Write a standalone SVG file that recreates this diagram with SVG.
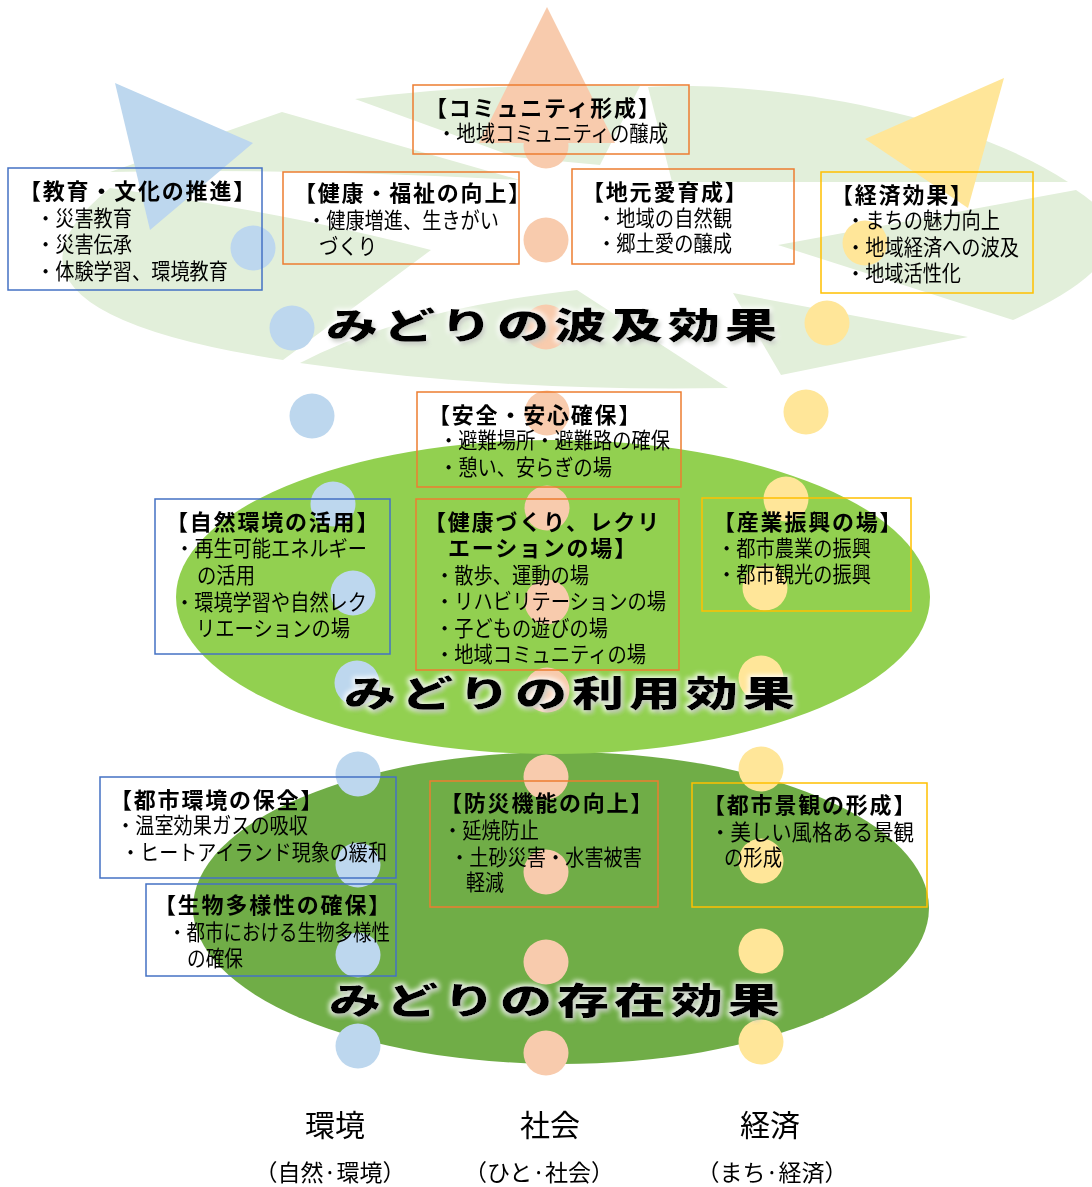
<svg xmlns="http://www.w3.org/2000/svg" width="1092" height="1187" viewBox="0 0 1092 1187">
<defs>
<style>
.leaf{fill:#e2efda}
.bx{fill:none;stroke-width:1.5}
.b{stroke:#4472c4}.o{stroke:#ed7d31}.y{stroke:#ffc000}
.cb{fill:#bdd7ee}.co{fill:#f8cbad}.cy{fill:#ffe699}
.t{font-family:"Noto Sans CJK JP","Noto Sans CJK SC",sans-serif;font-size:22px;font-weight:700;letter-spacing:1.8px;fill:#000}
.l{font-family:"Noto Sans CJK JP","Noto Sans CJK SC",sans-serif;font-size:21.5px;fill:#000}
.big{font-family:"Noto Sans CJK JP","Noto Sans CJK SC",sans-serif;font-size:36px;font-weight:900;letter-spacing:3.3px;fill:#000}
.ax{font-family:"Noto Sans CJK JP","Noto Sans CJK SC",sans-serif;font-size:30px;fill:#000;text-anchor:middle}
.sub{font-family:"Noto Sans CJK JP","Noto Sans CJK SC",sans-serif;font-size:23px;fill:#000;text-anchor:middle}
</style>
<filter id="glow" x="-10%" y="-40%" width="120%" height="180%">
<feMorphology in="SourceAlpha" operator="dilate" radius="2" result="d"/>
<feGaussianBlur in="d" stdDeviation="2.5" result="b"/>
<feFlood flood-color="#ffffff" flood-opacity="0.9"/>
<feComposite in2="b" operator="in" result="gl"/>
<feOffset in="SourceAlpha" dx="2" dy="3" result="of"/>
<feGaussianBlur in="of" stdDeviation="2" result="ob"/>
<feFlood flood-color="#5a6b4a" flood-opacity="0.45"/>
<feComposite in2="ob" operator="in" result="sh"/>
<feMerge><feMergeNode in="gl"/><feMergeNode in="sh"/><feMergeNode in="SourceGraphic"/></feMerge>
</filter>
</defs>
<rect width="1092" height="1187" fill="#ffffff"/>

<g id="ripple-leaves">
<path class="leaf" d="M110,172 L282,112 L520,180 Q300,168 110,172 Z"/>
<path class="leaf" d="M355,99 Q480,82 640,86 L600,165 L515,157 Z"/>
<path class="leaf" d="M648,87 C760,80 960,110 1068,182 L672,182 Z"/>
<path class="leaf" d="M778,245 L1076,190 Q1170,250 1013,320 Z"/>
<path class="leaf" d="M733,293 L968,337 L781,375 Z"/>
<path class="leaf" d="M300,363 Q400,310 577,290 L728,388 Q500,392 300,363 Z"/>
<path class="leaf" d="M110,188 Q-40,310 283,360 L431,250 Q300,215 110,188 Z"/>
</g>

<g id="ellipses">
<ellipse cx="561" cy="908" rx="368" ry="156" fill="#70ad47"/>
<ellipse cx="553" cy="597" rx="377" ry="157" fill="#92d050"/>
</g>

<g id="connectors">
<g id="arrow-env">
<polygon class="cb" points="115,83 253,143 150,230"/>
<circle class="cb" cx="253" cy="248" r="22.5"/>
<circle class="cb" cx="292" cy="328" r="22.5"/>
<circle class="cb" cx="312" cy="416" r="22.5"/>
<circle class="cb" cx="333" cy="504" r="22.5"/>
<circle class="cb" cx="353" cy="593" r="22.5"/>
<circle class="cb" cx="357" cy="683" r="22.5"/>
<circle class="cb" cx="358" cy="774" r="22.5"/>
<circle class="cb" cx="358" cy="865" r="22.5"/>
<circle class="cb" cx="358" cy="955" r="22.5"/>
<circle class="cb" cx="358" cy="1046" r="22.5"/>
</g>
<g id="arrow-soc">
<polygon class="co" points="547,7 615,143 479,143"/>
<circle class="co" cx="546" cy="146" r="22.5"/>
<circle class="co" cx="546" cy="240" r="22.5"/>
<circle class="co" cx="546" cy="327" r="22.5"/>
<circle class="co" cx="547" cy="413" r="22.5"/>
<circle class="co" cx="547" cy="508" r="22.5"/>
<circle class="co" cx="547" cy="602" r="22.5"/>
<circle class="co" cx="547" cy="690" r="22.5"/>
<circle class="co" cx="546" cy="777" r="22.5"/>
<circle class="co" cx="546" cy="872" r="22.5"/>
<circle class="co" cx="546" cy="962" r="22.5"/>
<circle class="co" cx="546" cy="1053" r="22.5"/>
</g>
<g id="arrow-eco">
<polygon class="cy" points="1004,78 865,139 968,208"/>
<circle class="cy" cx="865" cy="243" r="22.5"/>
<circle class="cy" cx="827" cy="323" r="22.5"/>
<circle class="cy" cx="806" cy="412" r="22.5"/>
<circle class="cy" cx="786" cy="499" r="22.5"/>
<circle class="cy" cx="765" cy="588" r="22.5"/>
<circle class="cy" cx="761" cy="678" r="22.5"/>
<circle class="cy" cx="761" cy="769" r="22.5"/>
<circle class="cy" cx="761" cy="861" r="22.5"/>
<circle class="cy" cx="761" cy="951" r="22.5"/>
<circle class="cy" cx="761" cy="1042" r="22.5"/>
</g>
</g>

<g id="level-titles" filter="url(#glow)">
<text class="big" transform="translate(326,339) scale(1.45,1)">みどりの波及効果</text>
<text class="big" transform="translate(344,707) scale(1.45,1)">みどりの利用効果</text>
<text class="big" transform="translate(329,1014) scale(1.45,1)">みどりの存在効果</text>
</g>

<g id="node-education">
<rect class="bx b" x="8" y="168" width="254" height="122"/>
<text class="t" x="19" y="198.5">【教育・文化の推進】</text>
<text class="l" x="36" y="225.5" textLength="96" lengthAdjust="spacingAndGlyphs">・災害教育</text>
<text class="l" x="36" y="251.5" textLength="96" lengthAdjust="spacingAndGlyphs">・災害伝承</text>
<text class="l" x="36" y="278.5" textLength="192" lengthAdjust="spacingAndGlyphs">・体験学習、環境教育</text>
</g>
<g id="node-health">
<rect class="bx o" x="283" y="172" width="236" height="92"/>
<text class="t" x="294" y="201">【健康・福祉の向上】</text>
<text class="l" x="307" y="228" textLength="192" lengthAdjust="spacingAndGlyphs">・健康増進、生きがい</text>
<text class="l" x="319" y="254" textLength="58" lengthAdjust="spacingAndGlyphs">づくり</text>
</g>
<g id="node-community">
<rect class="bx o" x="413" y="85" width="276" height="69"/>
<text class="t" x="425" y="116">【コミュニティ形成】</text>
<text class="l" x="437" y="141" textLength="231" lengthAdjust="spacingAndGlyphs">・地域コミュニティの醸成</text>
</g>
<g id="node-local">
<rect class="bx o" x="572" y="169" width="222" height="95"/>
<text class="t" x="582" y="200">【地元愛育成】</text>
<text class="l" x="597" y="226" textLength="135" lengthAdjust="spacingAndGlyphs">・地域の自然観</text>
<text class="l" x="597" y="251" textLength="135" lengthAdjust="spacingAndGlyphs">・郷土愛の醸成</text>
</g>
<g id="node-economy">
<rect class="bx y" x="821" y="172" width="212" height="121"/>
<text class="t" x="831" y="203">【経済効果】</text>
<text class="l" x="846" y="228" textLength="154" lengthAdjust="spacingAndGlyphs">・まちの魅力向上</text>
<text class="l" x="846" y="255" textLength="173" lengthAdjust="spacingAndGlyphs">・地域経済への波及</text>
<text class="l" x="846" y="281" textLength="115" lengthAdjust="spacingAndGlyphs">・地域活性化</text>
</g>
<g id="node-safety">
<rect class="bx o" x="417" y="392" width="264" height="95"/>
<text class="t" x="428" y="423">【安全・安心確保】</text>
<text class="l" x="439" y="448" textLength="231" lengthAdjust="spacingAndGlyphs">・避難場所・避難路の確保</text>
<text class="l" x="439" y="475" textLength="173" lengthAdjust="spacingAndGlyphs">・憩い、安らぎの場</text>
</g>
<g id="node-nature">
<rect class="bx b" x="155" y="499" width="235" height="155"/>
<text class="t" x="166" y="530">【自然環境の活用】</text>
<text class="l" x="175" y="556" textLength="192" lengthAdjust="spacingAndGlyphs">・再生可能エネルギー</text>
<text class="l" x="197" y="583" textLength="58" lengthAdjust="spacingAndGlyphs">の活用</text>
<text class="l" x="175" y="610" textLength="192" lengthAdjust="spacingAndGlyphs">・環境学習や自然レク</text>
<text class="l" x="196" y="636" textLength="154" lengthAdjust="spacingAndGlyphs">リエーションの場</text>
</g>
<g id="node-recreation">
<rect class="bx o" x="416" y="499" width="263" height="171"/>
<text class="t" x="424" y="530">【健康づくり、レクリ</text>
<text class="t" x="448" y="556">エーションの場】</text>
<text class="l" x="435" y="583" textLength="154" lengthAdjust="spacingAndGlyphs">・散歩、運動の場</text>
<text class="l" x="435" y="609" textLength="231" lengthAdjust="spacingAndGlyphs">・リハビリテーションの場</text>
<text class="l" x="435" y="636" textLength="173" lengthAdjust="spacingAndGlyphs">・子どもの遊びの場</text>
<text class="l" x="435" y="662" textLength="211" lengthAdjust="spacingAndGlyphs">・地域コミュニティの場</text>
</g>
<g id="node-industry">
<rect class="bx y" x="702" y="498" width="209" height="113"/>
<text class="t" x="713" y="530">【産業振興の場】</text>
<text class="l" x="717" y="556" textLength="154" lengthAdjust="spacingAndGlyphs">・都市農業の振興</text>
<text class="l" x="717" y="582" textLength="154" lengthAdjust="spacingAndGlyphs">・都市観光の振興</text>
</g>
<g id="node-urban-env">
<rect class="bx b" x="100" y="777" width="296" height="101"/>
<text class="t" x="110" y="808">【都市環境の保全】</text>
<text class="l" x="116" y="833" textLength="192" lengthAdjust="spacingAndGlyphs">・温室効果ガスの吸収</text>
<text class="l" x="121" y="860" textLength="266" lengthAdjust="spacingAndGlyphs">・ヒートアイランド現象の緩和</text>
</g>
<g id="node-biodiversity">
<rect class="bx b" x="146" y="884" width="250" height="92"/>
<text class="t" x="154" y="913">【生物多様性の確保】</text>
<text class="l" x="168" y="940" textLength="222" lengthAdjust="spacingAndGlyphs">・都市における生物多様性</text>
<text class="l" x="187" y="966" textLength="56" lengthAdjust="spacingAndGlyphs">の確保</text>
</g>
<g id="node-disaster">
<rect class="bx o" x="430" y="781" width="228" height="126"/>
<text class="t" x="440" y="811">【防災機能の向上】</text>
<text class="l" x="443" y="838" textLength="96" lengthAdjust="spacingAndGlyphs">・延焼防止</text>
<text class="l" x="450" y="865" textLength="192" lengthAdjust="spacingAndGlyphs">・土砂災害・水害被害</text>
<text class="l" x="466" y="890" textLength="38" lengthAdjust="spacingAndGlyphs">軽減</text>
</g>
<g id="node-landscape">
<rect class="bx y" x="692" y="783" width="235" height="124"/>
<text class="t" x="703" y="813">【都市景観の形成】</text>
<text class="l" x="710" y="840" textLength="204" lengthAdjust="spacingAndGlyphs">・美しい風格ある景観</text>
<text class="l" x="724" y="865" textLength="58" lengthAdjust="spacingAndGlyphs">の形成</text>
</g>

<g id="axis-labels">
<text class="ax" x="335" y="1136">環境</text>
<text class="ax" x="550" y="1136">社会</text>
<text class="ax" x="770" y="1136">経済</text>
<text class="sub" x="330" y="1181">（自然·環境）</text>
<text class="sub" x="539" y="1181">（ひと·社会）</text>
<text class="sub" x="772" y="1181">（まち·経済）</text>
</g>
</svg>
